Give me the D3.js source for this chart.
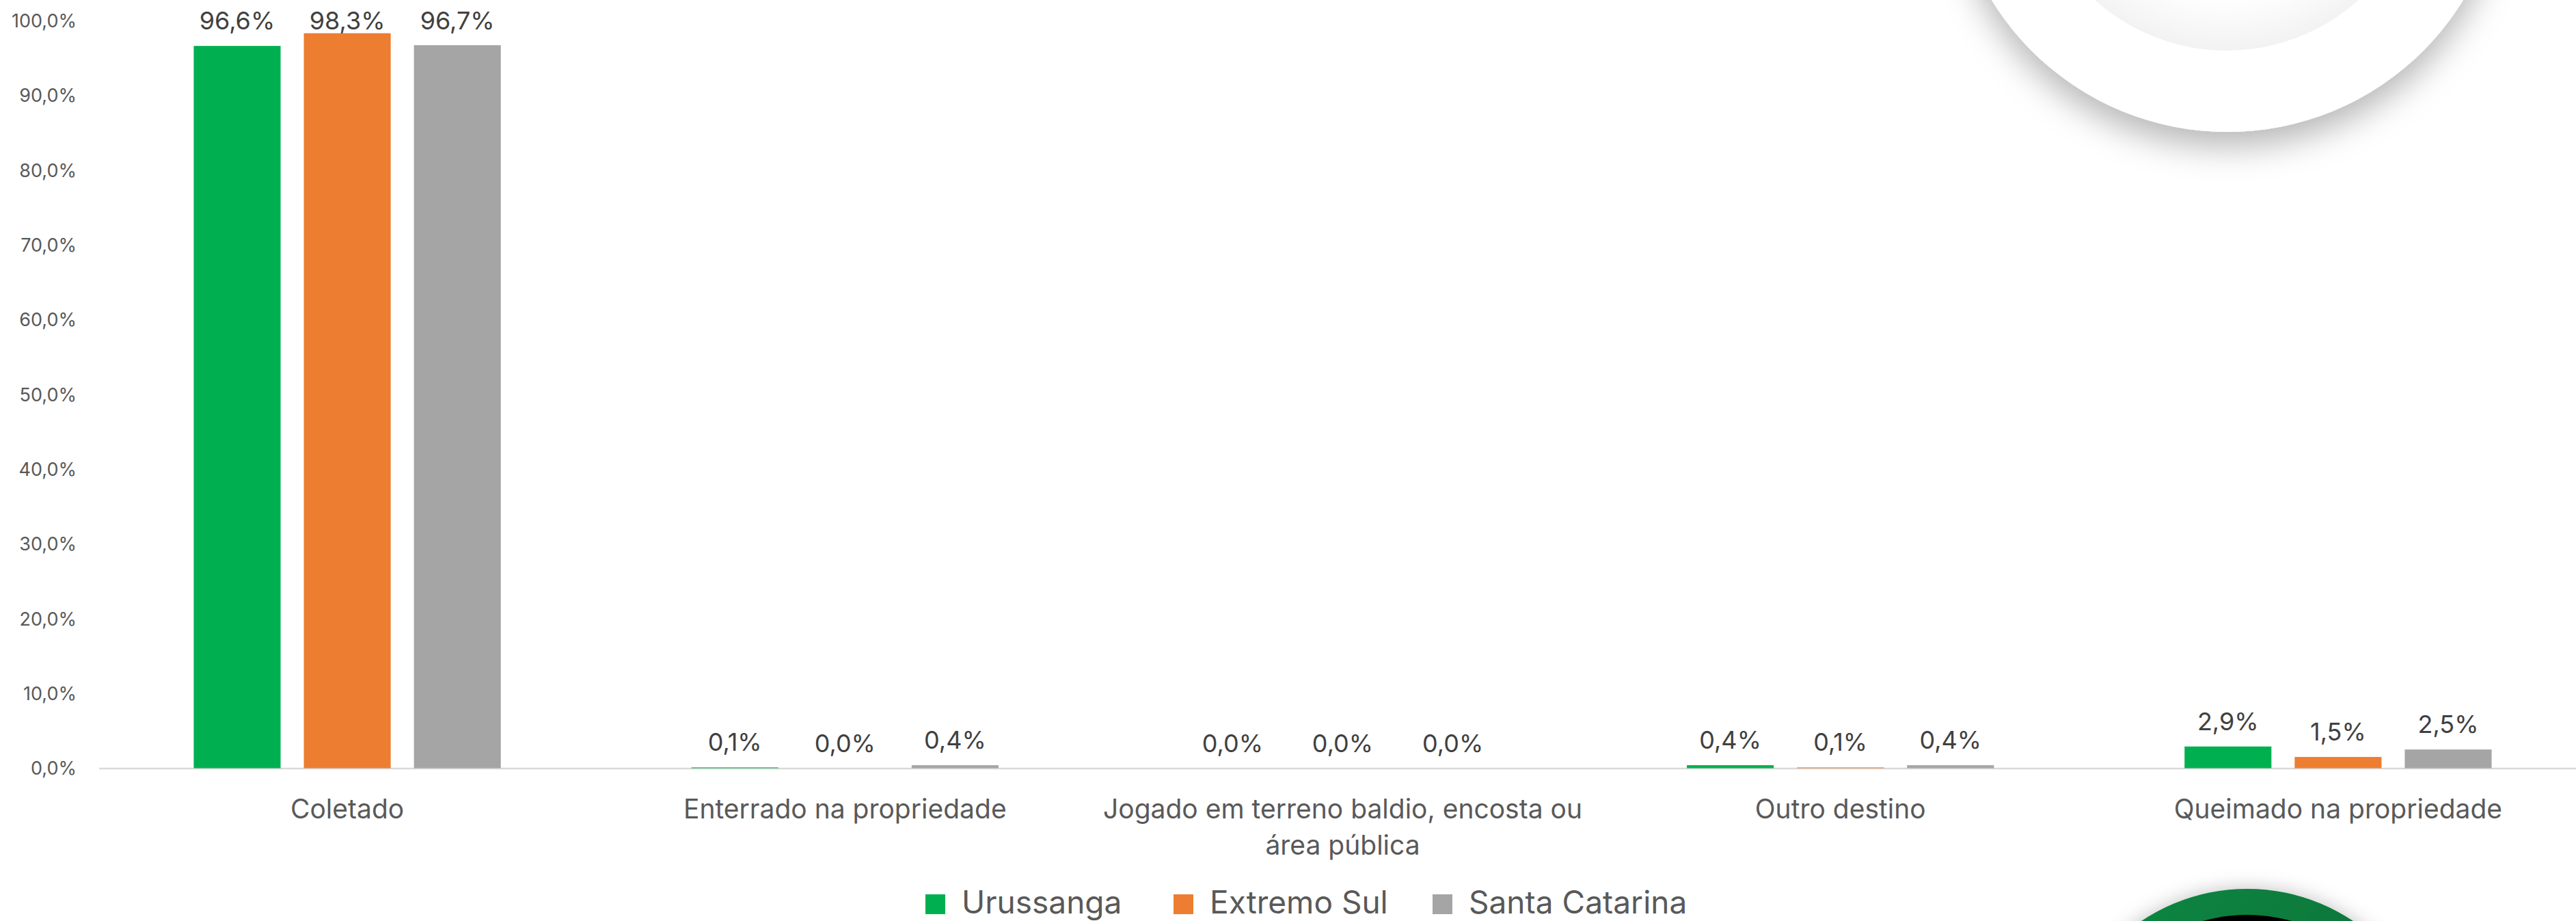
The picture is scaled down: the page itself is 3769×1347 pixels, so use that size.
<!DOCTYPE html>
<html>
<head>
<meta charset="utf-8">
<script src="https://cdn.jsdelivr.net/npm/d3@7"></script>
<style>
  html, body { margin: 0; padding: 0; background: #fff; }
  svg { display: block; }
  text { font-family: Inter, "Noto Sans", sans-serif; }
</style>
</head>
<body>
<script>
const categories = ["Coletado", "Enterrado na propriedade", "Jogado em terreno baldio, encosta ou área pública", "Outro destino", "Queimado na propriedade"];
const seriesNames = ["Urussanga", "Extremo Sul", "Santa Catarina"];
const seriesColors = ["#00B050", "#ED7D31", "#A5A5A5"];
const urussanga = [96.6, 0.1, 0.0, 0.4, 2.9];
const extremoSul = [98.3, 0.0, 0.0, 0.1, 1.5];
const santaCatarina = [96.7, 0.4, 0.0, 0.4, 2.5];
const yTicks = [0, 10, 20, 30, 40, 50, 60, 70, 80, 90, 100];

const W = 3769, H = 1347;
const seriesValues = [urussanga, extremoSul, santaCatarina];
const fmt = v => v.toFixed(1).replace(".", ",");

const svg = d3.select("body").append("svg").attr("width", W).attr("height", H);
const defs = svg.append("defs");

// decorations
const sh = defs.append("filter").attr("id", "shadow").attr("x", "-30%").attr("y", "-30%").attr("width", "160%").attr("height", "160%");
sh.append("feDropShadow").attr("dx", 0).attr("dy", 22).attr("stdDeviation", 24).attr("flood-color", "#000").attr("flood-opacity", 0.28);
const sh2 = defs.append("filter").attr("id", "shadow2").attr("x", "-30%").attr("y", "-30%").attr("width", "160%").attr("height", "160%");
sh2.append("feDropShadow").attr("dx", 0).attr("dy", 0).attr("stdDeviation", 14).attr("flood-color", "#000").attr("flood-opacity", 0.25);
const inner = defs.append("radialGradient").attr("id", "innerG").attr("cx", "50%").attr("cy", "45%").attr("r", "55%");
inner.append("stop").attr("offset", "0.75").attr("stop-color", "#ffffff");
inner.append("stop").attr("offset", "1").attr("stop-color", "#f2f2f2");
const gg = defs.append("linearGradient").attr("id", "greenG").attr("x1", "0").attr("y1", "0").attr("x2", "1").attr("y2", "1");
gg.append("stop").attr("offset", "0").attr("stop-color", "#0c8a44");
gg.append("stop").attr("offset", "1").attr("stop-color", "#07602f");

const deco = svg.append("g");
deco.append("circle").attr("cx", 3259).attr("cy", -212).attr("r", 405).attr("fill", "#fff").attr("filter", "url(#shadow)");
deco.append("circle").attr("cx", 3258).attr("cy", -214).attr("r", 288).attr("fill", "url(#innerG)");
deco.append("circle").attr("cx", 3288).attr("cy", 1579).attr("r", 279).attr("fill", "url(#greenG)").attr("filter", "url(#shadow2)");
deco.append("circle").attr("cx", 3288).attr("cy", 1579).attr("r", 241).attr("fill", "#000");

// scales
const x0 = d3.scaleBand().domain(categories).range([144, 3785]).paddingInner(0.383).paddingOuter(0.1915);
const x1 = d3.scaleBand().domain(seriesNames).range([0, x0.bandwidth()]).paddingInner(0.211);
const y = d3.scaleLinear().domain([0, 100]).range([1123.5, 30]);

// y axis labels
const yAxis = d3.axisLeft(y).tickValues(yTicks).tickFormat(d => fmt(d) + "%").tickSize(0).tickPadding(0);
const ya = svg.append("g").attr("transform", "translate(112,0)").call(yAxis);
ya.select(".domain").remove();
ya.selectAll("text").attr("font-size", 27).attr("fill", "#595959")
  .attr("font-family", "Inter, sans-serif").attr("dy", "0.35em");

// baseline
svg.append("line").attr("x1", 145).attr("x2", W).attr("y1", y(0) + 0.5).attr("y2", y(0) + 0.5)
  .attr("stroke", "#D9D9D9").attr("stroke-width", 2.5);

// bars
const groups = svg.append("g").selectAll("g").data(categories).join("g")
  .attr("transform", d => `translate(${x0(d)},0)`);
groups.each(function(cat, ci) {
  const g = d3.select(this);
  const data = seriesNames.map((s, si) => ({ s, si, v: seriesValues[si][ci] }));
  g.selectAll("rect").data(data).join("rect")
    .attr("x", d => x1(d.s)).attr("width", x1.bandwidth())
    .attr("y", d => y(d.v)).attr("height", d => y(0) - y(d.v))
    .attr("fill", d => seriesColors[d.si]);
  g.selectAll("text").data(data).join("text")
    .attr("x", d => x1(d.s) + x1.bandwidth() / 2)
    .attr("y", d => Math.max(y(d.v) - 24, 43))
    .attr("text-anchor", "middle").attr("font-size", 36).attr("fill", "#404040")
    .text(d => fmt(d.v) + "%");
});

// category labels (wrapped)
const xa = svg.append("g").selectAll("text").data(categories).join("text")
  .attr("x", d => x0(d) + x0.bandwidth() / 2).attr("y", 1197)
  .attr("text-anchor", "middle").attr("font-size", 39).attr("fill", "#595959");
xa.each(function(d) {
  const t = d3.select(this);
  const words = d.split(" ");
  const maxW = x0.step() - 4;
  let line = [];
  let ts = t.append("tspan").attr("x", t.attr("x")).attr("dy", 0);
  for (const w of words) {
    line.push(w);
    ts.text(line.join(" "));
    if (ts.node().getComputedTextLength() > maxW && line.length > 1) {
      line.pop();
      ts.text(line.join(" "));
      line = [w];
      ts = t.append("tspan").attr("x", t.attr("x")).attr("dy", 53).text(w);
    }
  }
});

// legend
const legX = [1354, 1717, 2096];
const leg = svg.append("g").selectAll("g").data(seriesNames).join("g")
  .attr("transform", (d, i) => `translate(${legX[i]},1308)`);
leg.append("rect").attr("width", 29).attr("height", 29).attr("fill", (d, i) => seriesColors[i]);
leg.append("text").attr("x", 53).attr("y", 28).attr("font-size", 46).attr("fill", "#595959").text(d => d);
</script>
</body>
</html>
